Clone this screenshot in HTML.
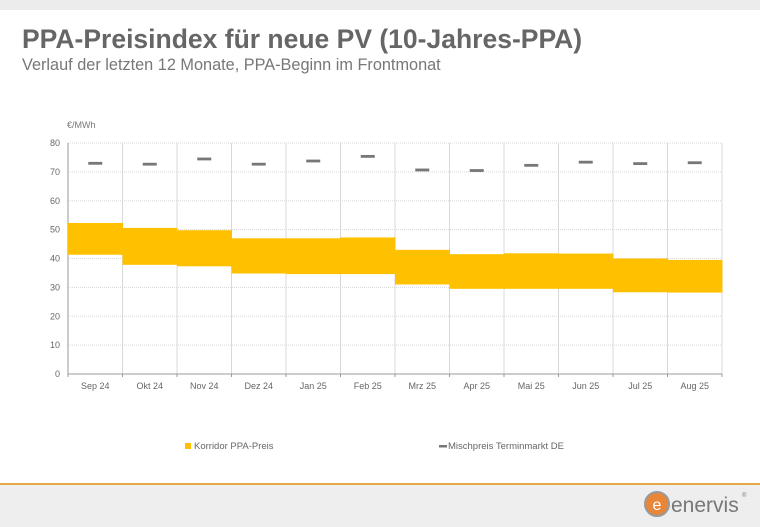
<!DOCTYPE html>
<html><head><meta charset="utf-8"><style>
body{margin:0;width:760px;height:525px;overflow:hidden;background:#fff;font-family:"Liberation Sans",sans-serif;position:relative}
.top{position:absolute;left:0;top:0;width:760px;height:10px;background:#ececec}
.t1{position:absolute;left:22px;top:24px;font-size:26.5px;font-weight:bold;color:#666}
.t2{position:absolute;left:22px;top:56px;font-size:16.3px;color:#777}
.foot{position:absolute;left:0;top:483px;width:760px;height:42px;background:#eeeeee;border-top:2px solid #e6a844}
</style></head><body>
<div class="top"></div>
<div class="t1">PPA-Preisindex für neue PV (10-Jahres-PPA)</div>
<div class="t2">Verlauf der letzten 12 Monate, PPA-Beginn im Frontmonat</div>
<svg width="760" height="525" style="position:absolute;left:0;top:0" font-family="Liberation Sans, sans-serif">
<text x="67" y="128" font-size="9" fill="#777">€/MWh</text>
<g id="g"></g>
<g font-size="9" fill="#666" text-anchor="end" id="yl"></g>
<g font-size="9" fill="#666" text-anchor="middle" id="xl"></g>
<rect x="185" y="443" width="6" height="6" fill="#ffc000"/>
<text x="194" y="449" font-size="9.5" fill="#666">Korridor PPA-Preis</text>
<rect x="439" y="445" width="8" height="2.5" fill="#777"/>
<text x="448" y="449" font-size="9.5" fill="#666">Mischpreis Terminmarkt DE</text>
</svg>
<script>
var L=68,R=722,T=143,B=374,W=(R-L)/12,k=(B-T)/80;
function y(v){return B-v*k}
var s='';
for(var v=0;v<=80;v+=10){s+='<line x1="'+L+'" x2="'+R+'" y1="'+y(v)+'" y2="'+y(v)+'" stroke="#d8d8d8" stroke-dasharray="1,1"/>';}
for(var i=0;i<=12;i++){var x=L+i*W;s+='<line x1="'+x+'" x2="'+x+'" y1="'+T+'" y2="'+B+'" stroke="#d8d8d8"/>'+'<line x1="'+x+'" x2="'+x+'" y1="'+B+'" y2="'+(B+3)+'" stroke="#999"/>';}
s+='<line x1="'+L+'" x2="'+L+'" y1="'+T+'" y2="'+B+'" stroke="#999"/><line x1="'+L+'" x2="'+R+'" y1="'+B+'" y2="'+B+'" stroke="#999"/>';
var hi=[52.3,50.6,49.8,47,47,47.3,43,41.5,41.8,41.7,40,39.5],lo=[41.3,37.8,37.3,34.8,34.6,34.6,31,29.5,29.5,29.5,28.3,28.2],m=[73,72.7,74.5,72.7,73.8,75.4,70.7,70.5,72.3,73.4,72.9,73.2];
var lab=["Sep 24","Okt 24","Nov 24","Dez 24","Jan 25","Feb 25","Mrz 25","Apr 25","Mai 25","Jun 25","Jul 25","Aug 25"];
for(i=0;i<12;i++){var x=L+i*W;s+='<rect x="'+x+'" y="'+y(hi[i])+'" width="'+(W+0.5)+'" height="'+((hi[i]-lo[i])*k)+'" fill="#ffc000"/>';
s+='<rect x="'+(x+W/2-7)+'" y="'+(y(m[i])-1.3)+'" width="14" height="2.8" fill="#777"/>';}
document.getElementById('g').innerHTML=s;
var t='';for(v=0;v<=80;v+=10)t+='<text x="'+(L-8)+'" y="'+(y(v)+3)+'">'+v+'</text>';
document.getElementById('yl').innerHTML=t;
t='';for(i=0;i<12;i++)t+='<text x="'+(L+i*W+W/2)+'" y="'+(B+15)+'">'+lab[i]+'</text>';
document.getElementById('xl').innerHTML=t;
</script>
<div class="foot"></div>
<svg width="760" height="525" style="position:absolute;left:0;top:0" font-family="Liberation Sans, sans-serif">
<circle cx="657" cy="504" r="12" fill="#e8863a" stroke="#999" stroke-width="2"/>
<text x="657" y="510" font-size="16" fill="#fff" text-anchor="middle">e</text>
<text x="671" y="512" font-size="21" fill="#777">enervis</text>
<text x="742" y="497" font-size="6" fill="#777">®</text>
</svg>
</body></html>
